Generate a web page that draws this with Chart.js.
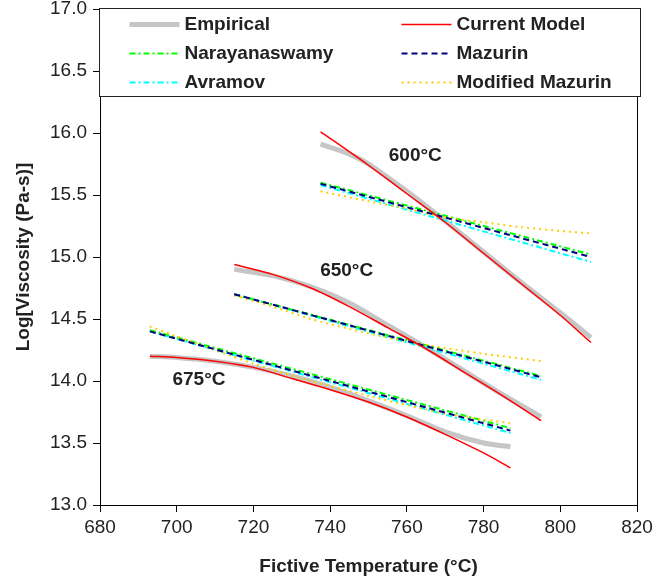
<!DOCTYPE html>
<html>
<head>
<meta charset="utf-8">
<script src="https://cdn.jsdelivr.net/npm/chart.js@4.4.1/dist/chart.umd.min.js"></script>
<style>
  body { margin: 0; background: #fff; }
  #wrap { width: 669px; height: 584px; }
</style>
</head>
<body>
<div id="wrap"><canvas id="viscChart" width="669" height="584"></canvas></div>
<script>
// Log viscosity vs fictive temperature, three isotherms
const t600 = [737.5, 745, 750, 760, 770, 780, 790, 800, 808];
const empirical600 = [15.91, 15.83, 15.75, 15.53, 15.29, 15.04, 14.79, 14.55, 14.35];
const current600 = [16.01, 15.85, 15.74, 15.51, 15.28, 15.03, 14.78, 14.53, 14.31];
const ends600 = [737.5, 808];
const narayanaswamy600 = [15.60, 15.02];
const mazurin600 = [15.59, 15.00];
const avramov600 = [15.58, 14.96];
const tMod600 = [737.5, 750, 760, 770, 780, 790, 800, 808];
const modMazurin600 = [15.53, 15.45, 15.39, 15.32, 15.28, 15.24, 15.21, 15.19];

const t650 = [715, 725, 735, 745, 755, 765, 775, 785, 795];
const empirical650 = [14.90, 14.85, 14.76, 14.63, 14.45, 14.27, 14.08, 13.89, 13.71];
const current650 = [14.94, 14.86, 14.75, 14.60, 14.43, 14.26, 14.07, 13.88, 13.68];
const ends650 = [715, 795];
const narayanaswamy650 = [14.70, 14.04];
const mazurin650 = [14.70, 14.03];
const avramov650 = [14.70, 14.01];
const tMod650 = [715, 725, 735, 745, 755, 765, 780, 795];
const modMazurin650 = [14.69, 14.60, 14.50, 14.42, 14.35, 14.29, 14.22, 14.16];

const t675 = [693, 700, 710, 720, 730, 740, 750, 760, 770, 780, 787];
const empirical675 = [14.20, 14.19, 14.16, 14.11, 14.04, 13.95, 13.84, 13.72, 13.59, 13.50, 13.47];
const current675 = [14.20, 14.19, 14.16, 14.11, 14.02, 13.93, 13.83, 13.71, 13.57, 13.42, 13.30];
const ends675 = [693, 787];
const narayanaswamy675 = [14.41, 13.62];
const mazurin675 = [14.40, 13.60];
const avramov675 = [14.40, 13.58];
const tMod675 = [693, 700, 710, 720, 735, 750, 765, 775, 787];
const modMazurin675 = [14.44, 14.36, 14.25, 14.14, 14.00, 13.88, 13.77, 13.71, 13.66];

const isotherms = [
  { text: '600°C', x: 762.2, y: 15.82 },
  { text: '650°C', x: 744.3, y: 14.89 },
  { text: '675°C', x: 705.8, y: 14.01 }
];

const FONT = "'Liberation Sans', Arial, sans-serif";

// one dataset per model; the three isotherm curves are split by a null point
function curve(...pairs) {
  const out = [];
  pairs.forEach(([xs, ys], k) => {
    if (k > 0) out.push({ x: xs[0], y: null });
    xs.forEach((x, i) => out.push({ x: x, y: ys[i] }));
  });
  return out;
}

function series(label, data, color, width, dash, order, tension) {
  return {
    label: label,
    data: data,
    borderColor: color,
    backgroundColor: color,
    borderWidth: width,
    borderDash: dash,
    showLine: true,
    spanGaps: false,
    pointRadius: 0,
    tension: tension || 0,
    order: order
  };
}

const datasets = [
  series('Empirical', curve([t600, empirical600], [t650, empirical650], [t675, empirical675]), '#c6c6c6', 5, [], 6, 0.3),
  series('Current Model', curve([t600, current600], [t650, current650], [t675, current675]), '#ff0000', 1.5, [], 0, 0.3),
  series('Narayanaswamy', curve([ends600, narayanaswamy600], [ends650, narayanaswamy650], [ends675, narayanaswamy675]), '#00ff00', 2, [6, 3, 2, 3], 3),
  series('Mazurin', curve([ends600, mazurin600], [ends650, mazurin650], [ends675, mazurin675]), '#000080', 2, [6, 4], 1),
  series('Avramov', curve([ends600, avramov600], [ends650, avramov650], [ends675, avramov675]), '#00ffff', 2, [6, 3, 2, 3], 4),
  series('Modified Mazurin', curve([tMod600, modMazurin600], [tMod650, modMazurin650], [tMod675, modMazurin675]), '#ffcc00', 2, [2, 4], 2, 0.3)
];

// right frame edge, isotherm labels and the boxed legend over the top of the plot
const decorations = {
  id: 'decorations',
  afterDatasetsDraw(chart) {
    const { ctx, chartArea: a, scales } = chart;
    ctx.save();
    ctx.strokeStyle = '#000';
    ctx.lineWidth = 1;
    ctx.setLineDash([]);
    ctx.beginPath();
    ctx.moveTo(a.right + 0.5, a.top);
    ctx.lineTo(a.right + 0.5, a.bottom);
    ctx.stroke();

    ctx.fillStyle = '#222';
    ctx.font = 'bold 19px ' + FONT;
    ctx.textAlign = 'center';
    ctx.textBaseline = 'middle';
    isotherms.forEach(l => {
      ctx.fillText(l.text, scales.x.getPixelForValue(l.x), scales.y.getPixelForValue(l.y));
    });

    const left = a.left - 0.5, top = a.top - 0.5;
    const w = a.right - a.left + 4, h = 88;
    ctx.fillStyle = '#fff';
    ctx.fillRect(left, top, w, h);
    ctx.strokeStyle = '#222';
    ctx.strokeRect(left, top, w, h);

    ctx.textAlign = 'left';
    chart.data.datasets.forEach((ds, i) => {
      const lx = left + (i % 2 ? 302 : 30);
      const y = top + 16 + Math.floor(i / 2) * 29;
      ctx.strokeStyle = ds.borderColor;
      ctx.lineWidth = ds.borderWidth;
      ctx.setLineDash(ds.borderDash);
      ctx.beginPath();
      ctx.moveTo(lx, y);
      ctx.lineTo(lx + 50, y);
      ctx.stroke();
      ctx.fillStyle = '#222';
      ctx.fillText(ds.label, lx + 55, y);
    });
    ctx.restore();
  }
};

const config = {
  type: 'scatter',
  data: { datasets: datasets },
  plugins: [decorations],
  options: {
    responsive: false,
    animation: false,
    layout: { padding: { left: 0, top: 9, right: 32, bottom: 0 } },
    plugins: {
      legend: { display: false },
      tooltip: { enabled: false }
    },
    scales: {
      x: {
        type: 'linear',
        min: 680,
        max: 820,
        afterFit: s => { s.height = 79; s.paddingLeft = 0; s.paddingRight = 0; },
        border: { display: true, color: '#000', width: 1 },
        grid: { drawOnChartArea: false, drawTicks: true, tickLength: 7, color: '#000' },
        ticks: { stepSize: 20, padding: 4, color: '#222', font: { family: FONT, size: 19 } },
        title: {
          display: true,
          text: 'Fictive Temperature (°C)',
          color: '#222',
          padding: { top: 0, bottom: 6 },
          font: { family: FONT, size: 19, weight: 'bold' }
        }
      },
      y: {
        min: 13,
        max: 17,
        afterFit: s => { s.width = 100; s.paddingTop = 0; s.paddingBottom = 0; },
        border: { display: true, color: '#000', width: 1 },
        grid: { drawOnChartArea: false, drawTicks: true, tickLength: 7, color: '#000' },
        ticks: {
          stepSize: 0.5,
          padding: 6,
          color: '#222',
          font: { family: FONT, size: 19 },
          callback: v => v.toFixed(1)
        },
        title: {
          display: true,
          text: 'Log[Viscosity (Pa-s)]',
          color: '#222',
          padding: { top: 12, bottom: 0 },
          font: { family: FONT, size: 19, weight: 'bold' }
        }
      }
    }
  }
};

const ctx = document.getElementById('viscChart').getContext('2d');
new Chart(ctx, config);
</script>
</body>
</html>
